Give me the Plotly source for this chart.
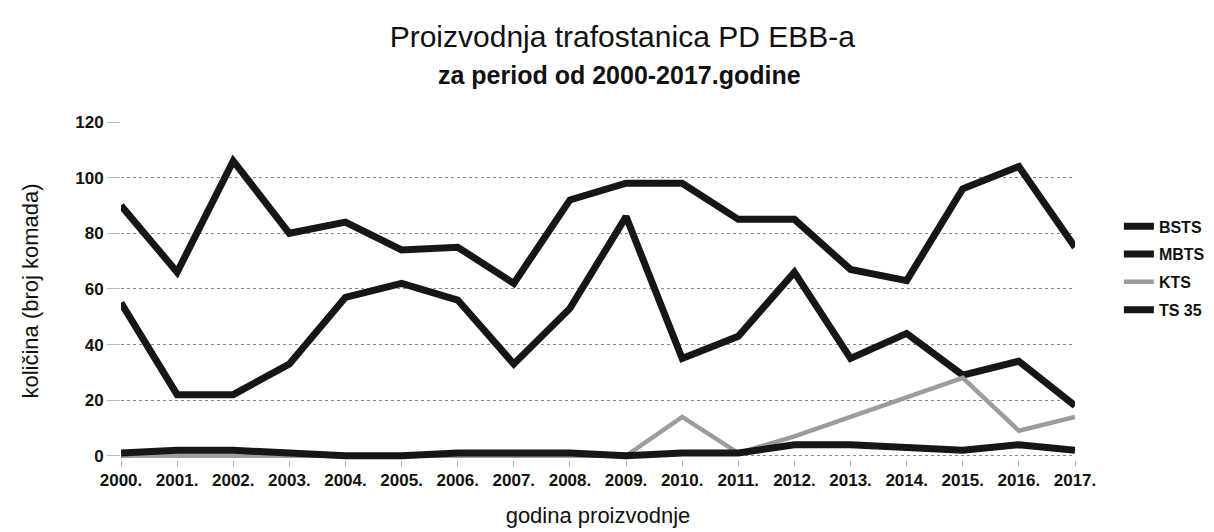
import plotly.graph_objects as go

years = ["2000.", "2001.", "2002.", "2003.", "2004.", "2005.", "2006.", "2007.", "2008.",
         "2009.", "2010.", "2011.", "2012.", "2013.", "2014.", "2015.", "2016.", "2017."]
bsts = [90, 66, 106, 80, 84, 74, 75, 62, 92, 98, 98, 85, 85, 67, 63, 96, 104, 75]
mbts = [55, 22, 22, 33, 57, 62, 56, 33, 53, 86, 35, 43, 66, 35, 44, 29, 34, 18]
kts = [0, 0, 0, 0, 0, 0, 0, 0, 0, 0, 14, 1, 7, 14, 21, 28, 9, 14]
ts35 = [1, 2, 2, 1, 0, 0, 1, 1, 1, 0, 1, 1, 4, 4, 3, 2, 4, 2]
y_ticks = [0, 20, 40, 60, 80, 100, 120]

series = [
    ("BSTS", bsts, "#161616", 7),
    ("MBTS", mbts, "#161616", 7),
    ("KTS", kts, "#9c9c9c", 4.5),
    ("TS 35", ts35, "#161616", 7),
]

fig = go.Figure()
for i, (name, vals, color, w) in enumerate(series):
    fig.add_trace(go.Scatter(
        x=years, y=vals, name=name, mode="lines",
        line=dict(color=color, width=w),
        legendgroup=f"g{i}",
    ))

# helper on overlay axis: dotted left/right plot borders via gridlines
fig.add_trace(go.Scatter(x=years, y=[None] * len(years), xaxis="x2", showlegend=False,
                         hoverinfo="skip"))

FONT = "Liberation Sans, Arial, sans-serif"

fig.update_layout(
    width=1214, height=532,
    margin=dict(l=113, r=141, t=114, b=80),
    paper_bgcolor="white", plot_bgcolor="white",
    font=dict(family=FONT, color="#111111"),
    title=dict(text="Proizvodnja trafostanica PD EBB-a", x=0.506, xanchor="center",
               y=0.947, yanchor="middle", font=dict(size=30, color="#111111")),
    annotations=[dict(text="<b>za period od 2000-2017.godine</b>", xref="paper", yref="paper",
                      x=0.523, y=1.0, yshift=47, showarrow=False, xanchor="center",
                      yanchor="middle", font=dict(size=25, color="#111111"))],
    showlegend=True,
    legend=dict(x=1.046, xanchor="left", y=0.567, yanchor="middle",
                font=dict(size=16, color="#111111", weight="bold"), itemwidth=30,
                tracegroupgap=4, traceorder="grouped", bgcolor="rgba(0,0,0,0)"),
    xaxis=dict(type="category", categoryorder="array", categoryarray=years,
               range=[0, len(years) - 1], showgrid=False, zeroline=False, showline=False,
               ticks="outside", ticklen=5, tickcolor="#aaaaaa",
               tickfont=dict(size=17, family=FONT, weight="bold"),
               title=dict(text="godina proizvodnje", font=dict(size=22), standoff=18)),
    xaxis2=dict(type="category", categoryorder="array", categoryarray=years,
                overlaying="x", matches="x", tickvals=[years[0], years[-1]],
                showticklabels=False, showgrid=True, griddash="dot", gridcolor="#888888",
                gridwidth=1, ticks=""),
    yaxis=dict(range=[-1.5, 120], tickvals=y_ticks, showgrid=True, griddash="dot",
               gridcolor="#888888", gridwidth=1, zeroline=False, showline=False,
               ticks="outside", ticklen=13, tickcolor="#bbbbbb",
               tickfont=dict(size=17, family=FONT, weight="bold"),
               title=dict(text="količina (broj komada)", font=dict(size=22), standoff=30)),
)

fig.write_html("out.html")
